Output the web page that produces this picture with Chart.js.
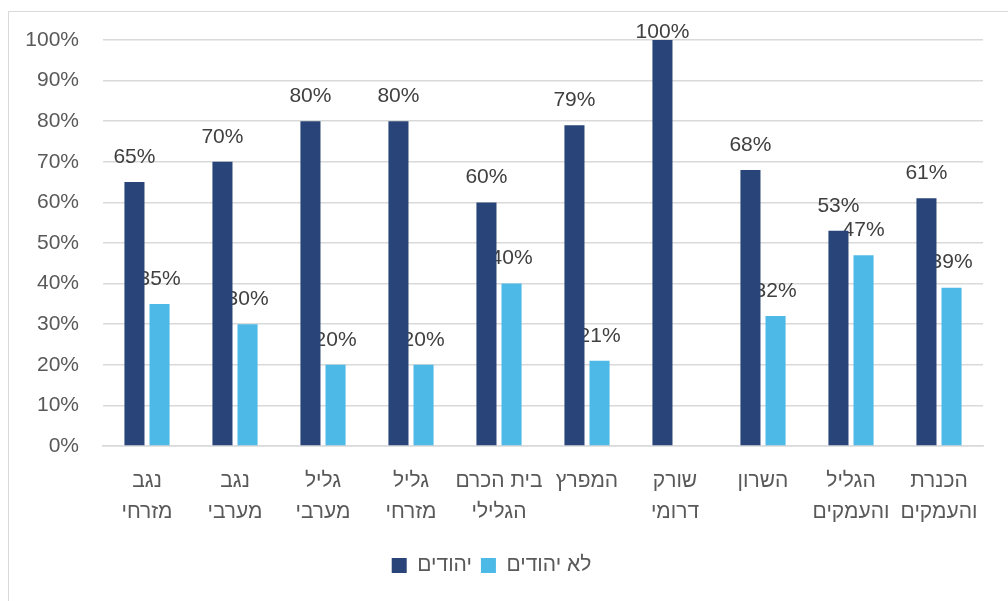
<!DOCTYPE html>
<html>
<head>
<meta charset="utf-8">
<script src="https://cdn.jsdelivr.net/npm/chart.js@4.4.0/dist/chart.umd.min.js"></script>
<style>
html,body{margin:0;padding:0;background:#fff;overflow:hidden;}
#frame{position:absolute;left:8px;top:11px;width:1100px;height:700px;border:1px solid #d9d9d9;box-sizing:border-box;}
#wrap{position:absolute;left:0;top:0;width:1008px;height:601px;}
</style>
</head>
<body>
<div id="frame"></div>
<div id="wrap"><canvas id="c" width="1008" height="601"></canvas></div>
<script>
const categories = [
  ["נגב","מזרחי"],
  ["נגב","מערבי"],
  ["גליל","מערבי"],
  ["גליל","מזרחי"],
  ["בית הכרם","הגלילי"],
  ["המפרץ"],
  ["שורק","דרומי"],
  ["השרון"],
  ["הגליל","והעמקים"],
  ["הכנרת","והעמקים"]
];
const jews = [65, 70, 80, 80, 60, 79, 100, 68, 53, 61];
const nonJews = [35, 30, 20, 20, 40, 21, null, 32, 47, 39];
const seriesNames = ["יהודים", "לא יהודים"];
const yTicks = [0,10,20,30,40,50,60,70,80,90,100];

const FONT = "'Liberation Sans', Arial, 'DejaVu Sans', sans-serif";
const TXT = '#595959';

const labelPlugin = {
  id: 'barLabels',
  beforeDatasetsDraw(chart) {
    const ctx = chart.ctx;
    ctx.save();
    ctx.font = '21px ' + FONT;
    ctx.fillStyle = '#404040';
    ctx.textAlign = 'center';
    ctx.textBaseline = 'middle';
    chart.data.datasets.forEach((ds, di) => {
      const meta = chart.getDatasetMeta(di);
      meta.data.forEach((bar, i) => {
        const v = ds.data[i];
        if (v === null || v === undefined) return;
        let y = bar.y - 25;
        if (y < chart.chartArea.top - 8) y = chart.chartArea.top - 8;
        ctx.fillText(v + '%', bar.x, y);
      });
    });
    ctx.restore();
  }
};

new Chart(document.getElementById('c'), {
  type: 'bar',
  data: {
    labels: categories,
    datasets: [
      { label: seriesNames[0], data: jews, backgroundColor: '#284479', barPercentage: 0.8, categoryPercentage: 0.57 },
      { label: seriesNames[1], data: nonJews, backgroundColor: '#4cb9e7', barPercentage: 0.8, categoryPercentage: 0.57 }
    ]
  },
  options: {
    responsive: false,
    animation: false,
    devicePixelRatio: 1,
    layout: { padding: { left: 0, right: 25, top: 40, bottom: 15 } },
    scales: {
      x: {
        grid: { display: false, drawTicks: false },
        border: { display: true, color: '#d9d9d9', width: 1.5 },
        ticks: { color: TXT, font: { family: FONT, size: 21, lineHeight: 1.48 }, padding: 20, maxRotation: 0, autoSkip: false },
        afterFit(s) { s.height = 100; }
      },
      y: {
        min: 0, max: 100,
        afterBuildTicks(s) { s.ticks = yTicks.map(v => ({ value: v })); },
        grid: { color: '#d9d9d9', lineWidth: 1.5, drawTicks: false },
        border: { display: false },
        ticks: { color: TXT, font: { family: FONT, size: 21 }, padding: 24, callback: v => v + '%' },
        afterFit(s) { s.width = 103; }
      }
    },
    plugins: {
      legend: {
        position: 'bottom',
        labels: { color: TXT, font: { family: FONT, size: 21 }, boxWidth: 15, boxHeight: 15, padding: 9 }
      },
      tooltip: { enabled: false }
    }
  },
  plugins: [labelPlugin]
});
</script>
</body>
</html>
